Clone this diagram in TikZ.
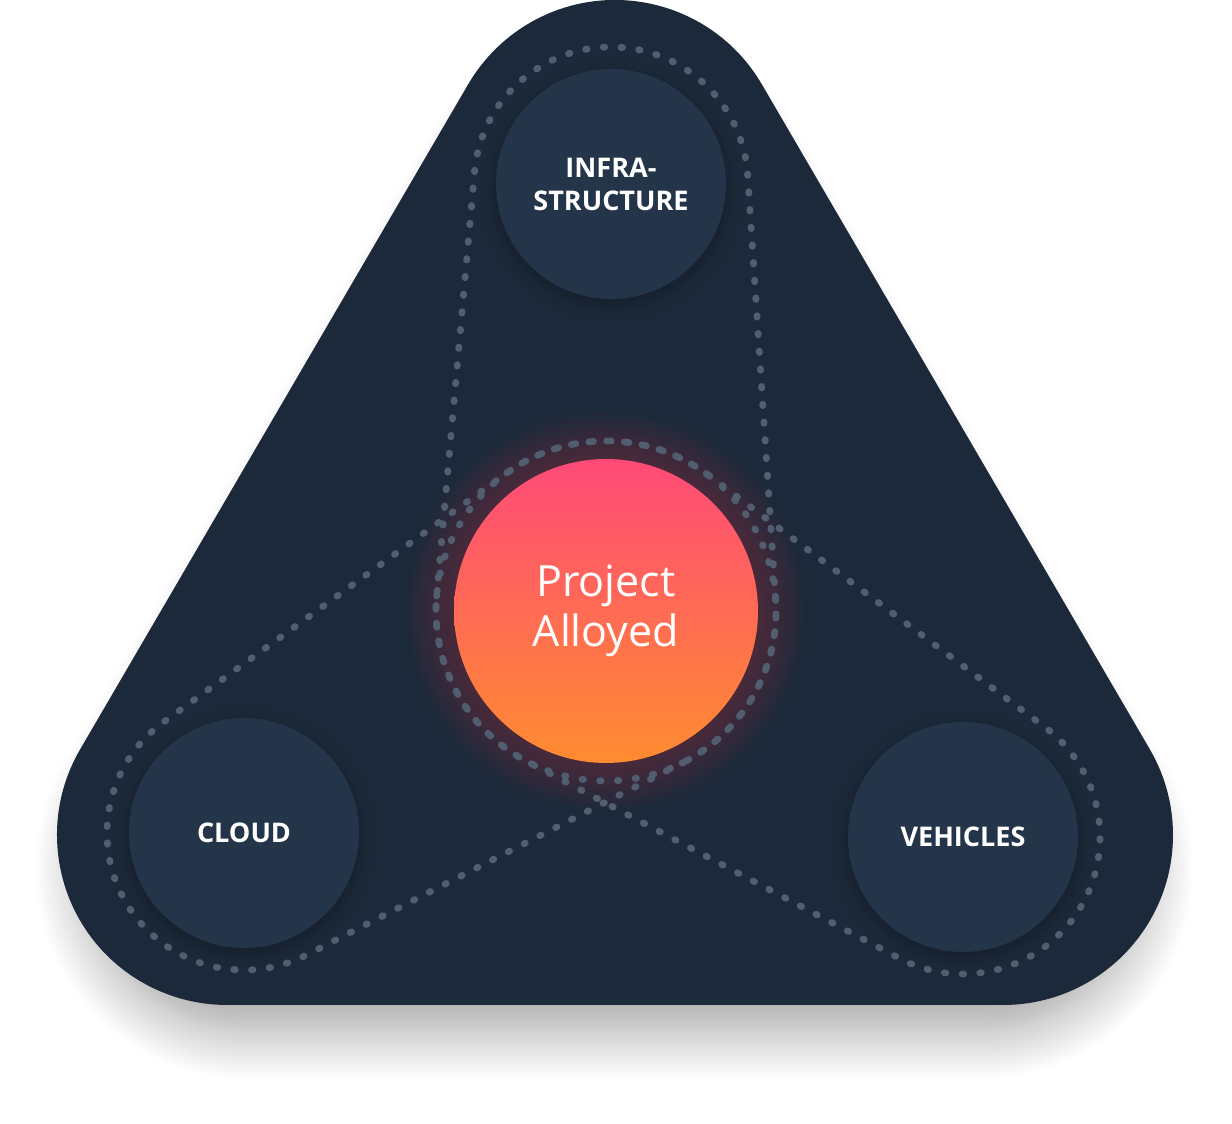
\documentclass[tikz,border=0pt]{standalone}
\usepackage{tikz}
\usetikzlibrary{calc, shadows.blur}
\usepackage{xcolor}
\usepackage{fontspec}
\setmainfont{Open Sans}
\definecolor{panelnavy}{RGB}{28,41,58}
\definecolor{hubnavy}{RGB}{36,53,73}
\definecolor{dotgray}{RGB}{80,94,112}
\definecolor{corepink}{RGB}{255,74,120}
\definecolor{coreorange}{RGB}{255,140,48}
\definecolor{coreglow}{RGB}{255,90,100}
\tikzstyle{hub} = [circle, minimum size=4.6cm, inner sep=0pt, fill=hubnavy, text=white, align=center, font=\bfseries\fontsize{15.4}{18.8}\selectfont, blur shadow={shadow xshift=0pt, shadow yshift=-3pt, shadow blur radius=8pt, shadow opacity=25}]
\tikzstyle{core} = [circle, minimum size=6.08cm, inner sep=0pt, top color=corepink, bottom color=coreorange, text=white, align=center, font=\fontsize{24.5}{28.5}\selectfont]
\tikzstyle{ring} = [draw=dotgray, line width=3.9pt, line cap=round, dash pattern=on 0.8pt off 9.3pt]
\tikzstyle{panel} = [fill=panelnavy, blur shadow={shadow xshift=0pt, shadow yshift=-30pt, shadow scale=0.95, shadow blur radius=30pt, shadow blur steps=24, shadow opacity=38}]

\begin{document}
\begin{tikzpicture}[x=0.02cm, y=0.02cm]

\useasboundingbox (0,0) rectangle (1232,1124);

% Corners of the panel
\coordinate (cornerL) at (227,289);
\coordinate (cornerR) at (1003,289);
\coordinate (cornerT) at (615,954);

% Hub positions
\coordinate (pos-infra) at (611,940);
\coordinate (pos-cloud) at (244,291);
\coordinate (pos-vehicles) at (963,287);
\coordinate (pos-alloyed) at (606,513);

% Rounded triangle panel
\path[panel] ($(cornerL)+(-90:170)$) -- ($(cornerR)+(-90:170)$)
  arc[start angle=-90, end angle=30.26, radius=170]
  -- ($(cornerT)+(30.26:170)$)
  arc[start angle=30.26, end angle=149.74, radius=170]
  -- ($(cornerL)+(149.74:170)$)
  arc[start angle=149.74, end angle=270, radius=170] -- cycle;

% Glow round the core
\foreach \r in {154,157,...,199}
  \fill[coreglow, opacity=0.016] (pos-alloyed) circle (\r);

% Dotted loops from each hub to the core
\foreach \hubname in {infra, cloud, vehicles}
  \draw[ring] let \p1 = ($(pos-\hubname)-(pos-alloyed)$), \n1 = {atan2(\y1,\x1)}, \n2 = {acos(18.78/veclen(\x1,\y1))} in
    ($(pos-alloyed)+(\n1+\n2:170)$) -- ($(pos-\hubname)+(\n1+\n2:137)$)
    arc[start angle=\n1+\n2, end angle=\n1-\n2, radius=137]
    -- ($(pos-alloyed)+(\n1-\n2:170)$)
    arc[start angle=\n1-\n2, end angle=\n1+\n2-360, radius=170] -- cycle;

% Hubs
\node[hub] (infra) at (pos-infra) {INFRA-\\STRUCTURE};
\node[hub] (cloud) at (pos-cloud) {CLOUD};
\node[hub] (vehicles) at (pos-vehicles) {VEHICLES};

% Core
\node[core] (alloyed) at (pos-alloyed) {Project\\Alloyed};

\end{tikzpicture}
\end{document}
